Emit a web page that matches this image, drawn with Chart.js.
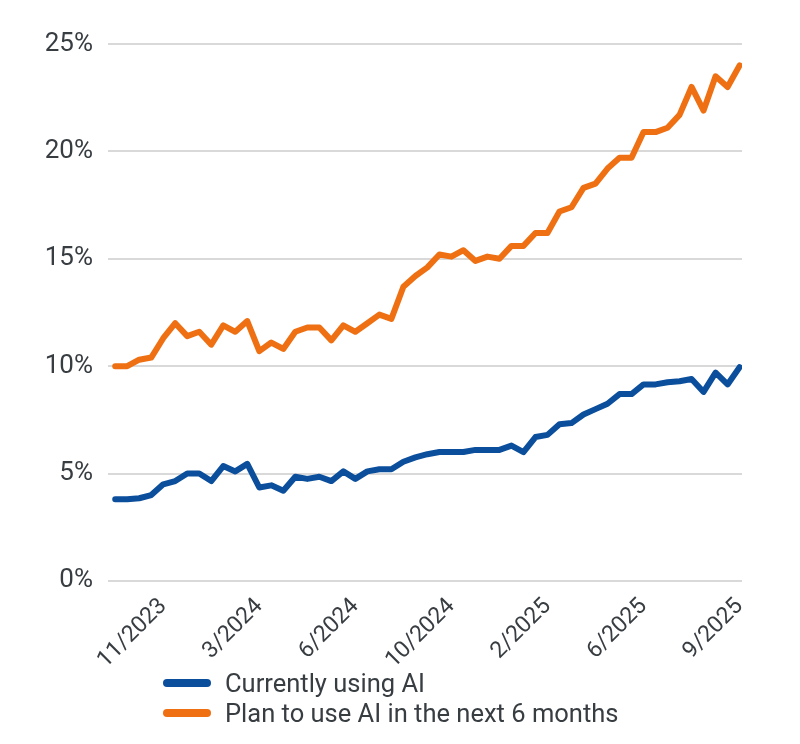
<!DOCTYPE html>
<html>
<head>
<meta charset="utf-8">
<script src="https://cdn.jsdelivr.net/npm/chart.js@4.4.1/dist/chart.umd.min.js"></script>
<style>
  body { margin: 0; background: #fff; }
  #wrap { position: relative; width: 800px; height: 744px; }
  #legend { position: absolute; left: 163px; top: 668px; font-family: Roboto, sans-serif; font-size: 25.5px; color: #383d42; }
  #legend div { display: flex; align-items: center; height: 30px; }
  #legend span.swatch { display: inline-block; width: 48px; height: 8px; border-radius: 4px; margin-right: 14px; }
</style>
</head>
<body>
<div id="wrap">
  <canvas id="chart" width="800" height="744"></canvas>
  <div id="legend"></div>
</div>
<script>
// biweekly survey points, shares of firms in %
const currentlyUsing = [
  3.8, 3.8, 3.85, 4.0, 4.5, 4.65, 5.0, 5.0, 4.65, 5.35,
  5.1, 5.45, 4.35, 4.45, 4.2, 4.85, 4.75, 4.85, 4.65, 5.1,
  4.75, 5.1, 5.2, 5.2, 5.55, 5.75, 5.9, 6.0, 6.0, 6.0,
  6.1, 6.1, 6.1, 6.3, 6.0, 6.7, 6.8, 7.3, 7.35, 7.75,
  8.0, 8.25, 8.7, 8.7, 9.15, 9.15, 9.25, 9.3, 9.4, 8.8,
  9.7, 9.15, 9.95
];
const planToUse = [
  10.0, 10.0, 10.3, 10.4, 11.3, 12.0, 11.4, 11.6, 11.0, 11.9,
  11.6, 12.1, 10.7, 11.1, 10.8, 11.6, 11.8, 11.8, 11.2, 11.9,
  11.6, 12.0, 12.4, 12.2, 13.7, 14.2, 14.6, 15.2, 15.1, 15.4,
  14.9, 15.1, 15.0, 15.6, 15.6, 16.2, 16.2, 17.2, 17.4, 18.3,
  18.5, 19.2, 19.7, 19.7, 20.9, 20.9, 21.1, 21.7, 23.0, 21.9,
  23.5, 23.0, 24.0
];
const tickPositions = [4, 12, 20, 28, 36, 44, 52];
const tickLabels = ["11/2023", "3/2024", "6/2024", "10/2024", "2/2025", "6/2025", "9/2025"];
const seriesNames = ["Currently using AI", "Plan to use AI in the next 6 months"];
const seriesColors = ["#0b4f9c", "#ee7012"];

const textColor = "#383d42";
const font = "Roboto, sans-serif";

const toPoints = (values) => values.map((y, x) => ({x, y}));

const chart = new Chart(document.getElementById("chart"), {
  type: "line",
  data: {
    datasets: [currentlyUsing, planToUse].map((values, i) => ({
      label: seriesNames[i],
      data: toPoints(values),
      borderColor: seriesColors[i],
      backgroundColor: seriesColors[i],
      borderWidth: 6,
      borderJoinStyle: "round",
      borderCapStyle: "round",
      pointRadius: 0,
      tension: 0,
    })),
  },
  options: {
    responsive: false,
    animation: false,
    layout: {
      padding: {left: 40, right: 58, top: 44, bottom: 66},
    },
    scales: {
      x: {
        type: "linear",
        min: -0.6,
        max: 52.2,
        afterBuildTicks: (scale) => {
          scale.ticks = tickPositions.map((value) => ({value}));
        },
        afterFit: (scale) => {
          // rotated labels sit left of their ticks, no need to pad the chart
          scale.paddingLeft = 0;
          scale.paddingRight = 0;
        },
        ticks: {
          autoSkip: false,
          minRotation: 45,
          maxRotation: 45,
          padding: 4,
          color: textColor,
          font: {family: font, size: 23},
          callback: (value) => tickLabels[tickPositions.indexOf(value)],
        },
        grid: {display: false},
        border: {display: false},
      },
      y: {
        min: 0,
        max: 25,
        afterFit: (scale) => {
          scale.width = 68;
        },
        ticks: {
          stepSize: 5,
          padding: 15,
          color: textColor,
          font: {family: font, size: 26},
          callback: (value) => value + "%",
        },
        grid: {color: "#d9d9d9", lineWidth: 2, drawTicks: false},
        border: {display: false},
      },
    },
    plugins: {
      legend: {display: false},
      tooltip: {enabled: false},
    },
  },
});

const legend = document.getElementById("legend");
for (const ds of chart.data.datasets) {
  const row = document.createElement("div");
  const swatch = document.createElement("span");
  swatch.className = "swatch";
  swatch.style.background = ds.borderColor;
  row.appendChild(swatch);
  row.appendChild(document.createTextNode(ds.label));
  legend.appendChild(row);
}
</script>
</body>
</html>
